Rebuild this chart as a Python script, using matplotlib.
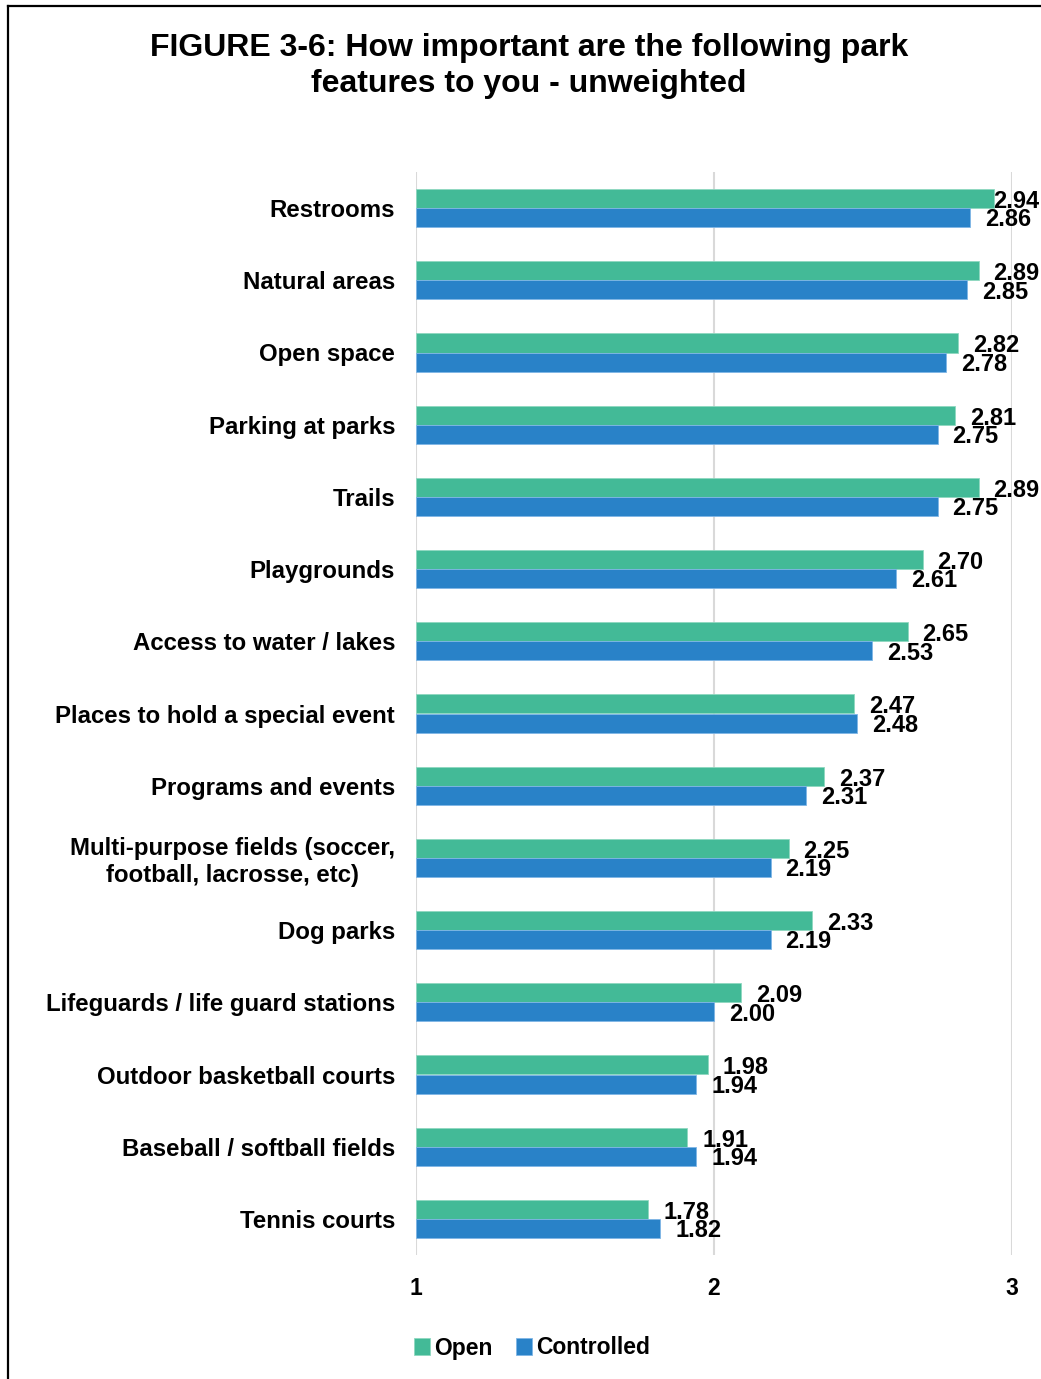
import matplotlib.pyplot as plt
import numpy as np
from matplotlib.lines import Line2D

# Categories (top to bottom as shown)
categories = ["Restrooms", "Natural areas", "Open space", "Parking at parks", "Trails",
              "Playgrounds", "Access to water / lakes", "Places to hold a special event",
              "Programs and events", "Multi-purpose fields (soccer,\nfootball, lacrosse, etc)",
              "Dog parks", "Lifeguards / life guard stations", "Outdoor basketball courts",
              "Baseball / softball fields", "Tennis courts"]
open_vals = [2.94, 2.89, 2.82, 2.81, 2.89, 2.70, 2.65, 2.47, 2.37, 2.25, 2.33, 2.09, 1.98, 1.91, 1.78]
controlled_vals = [2.86, 2.85, 2.78, 2.75, 2.75, 2.61, 2.53, 2.48, 2.31, 2.19, 2.19, 2.00, 1.94, 1.94, 1.82]
x_ticks = [1, 2, 3]

green = "#43BA97"
blue = "#2982C8"

plt.rcParams['font.family'] = ['Liberation Sans', 'DejaVu Sans']
plt.rcParams['font.weight'] = 'bold'

fig = plt.figure(figsize=(10.41, 13.79), dpi=100)
ax = fig.add_axes([416 / 1041, 1 - 1255 / 1379, (1012 - 416) / 1041, (1255 - 172) / 1379])

n = len(categories)
y = np.arange(n)
h = 0.265
base = 1

ax.barh(y - h / 2, np.array(open_vals) - base, left=base, height=h, color=green,
        edgecolor="#8FD8C0", linewidth=0.6, label="Open", zorder=2)
ax.barh(y + h / 2, np.array(controlled_vals) - base, left=base, height=h, color=blue,
        edgecolor="#7FB6E6", linewidth=0.6, label="Controlled", zorder=2)

# Value labels, pushed left if they would run off the figure
for i in range(n):
    for val, dy in ((open_vals[i], -h / 2 + 0.04), (controlled_vals[i], h / 2 + 0.03)):
        xpos = min(val + 0.05, 2.935)
        ax.text(xpos, y[i] + dy, "{:.2f}".format(val), va="center", ha="left",
                fontsize=17, fontweight="bold", clip_on=False)

ax.set_ylim(n - 0.5, -0.5)
ax.set_xlim(1, 3)
ax.set_xticks(x_ticks)
ax.set_xticklabels([str(t) for t in x_ticks], fontsize=16.5, fontweight="bold")
ax.set_yticks(y)
ax.set_yticklabels(categories, fontsize=17.3, fontweight="bold")
for lab in ax.get_yticklabels():
    lab.set_multialignment("center")
ax.tick_params(axis="y", length=0, pad=15)
ax.tick_params(axis="x", length=0, pad=16)
ax.grid(axis="x", color="#D9D9D9", linewidth=1.5, zorder=0)
ax.set_axisbelow(True)
for s in ax.spines.values():
    s.set_visible(False)

fig.text(529 / 1041, 1 - 66 / 1379,
         "FIGURE 3-6: How important are the following park\nfeatures to you - unweighted",
         ha="center", va="center", fontsize=23, fontweight="bold", linespacing=1.3)

fig.legend(loc="center", bbox_to_anchor=(532 / 1041, 1 - 1348 / 1379), ncol=2,
           frameon=False, handlelength=0.7, handleheight=0.7,
           handletextpad=0.2, columnspacing=1.0, prop={"weight": "bold", "size": 16.5})

# Border lines (left and top)
fig.add_artist(Line2D([7.5 / 1041, 7.5 / 1041], [0, 1 - 5.5 / 1379], transform=fig.transFigure,
                      color="black", linewidth=1.6))
fig.add_artist(Line2D([7.5 / 1041, 1], [1 - 5.5 / 1379, 1 - 5.5 / 1379], transform=fig.transFigure,
                      color="black", linewidth=1.6))

fig.savefig("out.png", dpi=100)
